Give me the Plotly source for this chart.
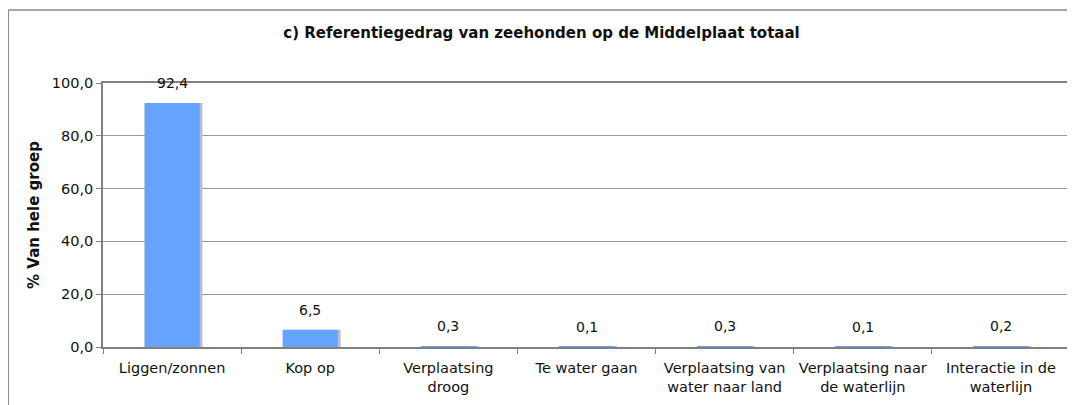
import plotly.graph_objects as go

categories = [
    "Liggen/zonnen",
    "Kop op",
    "Verplaatsing<br>droog",
    "Te water gaan",
    "Verplaatsing van<br>water naar land",
    "Verplaatsing naar<br>de waterlijn",
    "Interactie in de<br>waterlijn",
]
percentages = [92.4, 6.5, 0.3, 0.1, 0.3, 0.1, 0.2]
y_ticks = [0, 20, 40, 60, 80, 100]

labels = [f"{v:.1f}".replace(".", ",") for v in percentages]
font = "DejaVu Sans, sans-serif"

fig = go.Figure()
# grey drop shadow behind each bar
fig.add_trace(go.Bar(
    x=categories, y=percentages, width=0.4, offset=-0.18,
    marker=dict(color="#bdbdbd", line=dict(width=0)),
    hoverinfo="skip", showlegend=False,
))
fig.add_trace(go.Bar(
    x=categories, y=percentages, width=0.4, offset=-0.2,
    marker=dict(color="#66a3ff", line=dict(width=0)),
    showlegend=False,
))

# value labels a little above each bar
for cat, val, lab in zip(categories, percentages, labels):
    fig.add_annotation(x=cat, y=val, text=lab, showarrow=False,
                       yanchor="bottom", yshift=10,
                       font=dict(size=14, color="#111111", family=font))

# the page body adds an 8px margin, so the figure is drawn slightly smaller
fig.update_layout(
    width=1067, height=397,
    barmode="overlay",
    separators=",.",
    paper_bgcolor="white", plot_bgcolor="white",
    margin=dict(l=95, r=5, t=75, b=58, autoexpand=False),
    font=dict(family=font, size=15, color="#111111"),
    title=dict(
        text="<b>c) Referentiegedrag van zeehonden op de Middelplaat totaal</b>",
        x=0.5, xref="container", y=1 - 25 / 397, yref="container",
        yanchor="middle", font=dict(size=15, color="#111111"),
    ),
    xaxis=dict(
        showline=True, linecolor="#808080", linewidth=1.5, mirror=True,
        ticks="outside", tickson="boundaries", ticklen=5, tickcolor="#808080",
        tickfont=dict(size=14.5), showgrid=False, automargin=False,
        ticklabelstandoff=7,
    ),
    yaxis=dict(
        range=[0, 100], tickvals=y_ticks, tickformat=".1f",
        showline=True, linecolor="#808080", linewidth=1.5, mirror=True,
        ticks="outside", ticklen=5, tickcolor="#808080",
        showgrid=True, gridcolor="#9a9a9a", gridwidth=1,
        tickfont=dict(size=14.5), automargin=False,
        title=dict(text="<b>% Van hele groep</b>", font=dict(size=15), standoff=9),
        zeroline=False,
    ),
)

# outer chart frame (top and left edges visible)
fig.add_shape(type="line", xref="paper", yref="paper",
              x0=-0.098, x1=1.02, y0=1.2765, y1=1.2765,
              line=dict(color="#8a8a8a", width=1.5))
fig.add_shape(type="line", xref="paper", yref="paper",
              x0=-0.098, x1=-0.098, y0=1.2765, y1=-0.3,
              line=dict(color="#8a8a8a", width=1.5))

fig.write_html("out.html")
